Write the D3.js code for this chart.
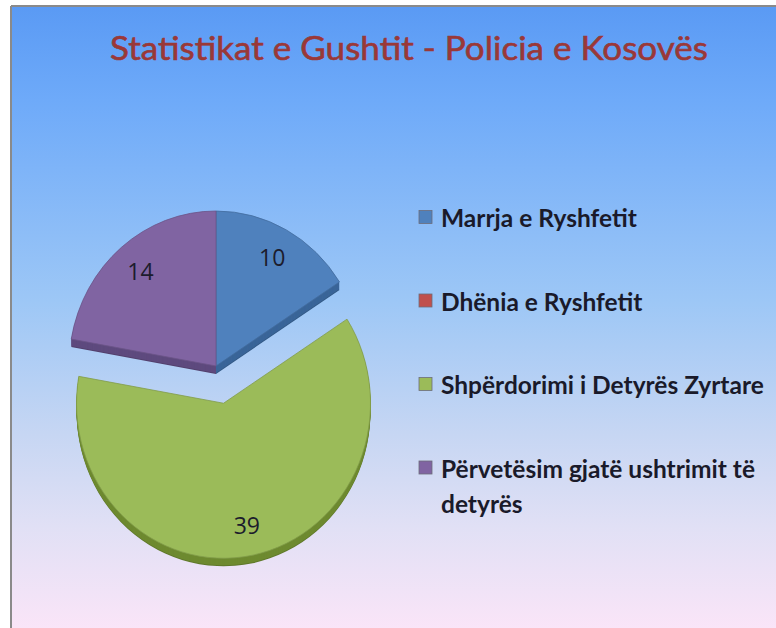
<!DOCTYPE html>
<html>
<head>
<meta charset="utf-8">
<script src="https://cdn.jsdelivr.net/npm/d3@7"></script>
<style>
  html, body { margin: 0; padding: 0; background: #ffffff; }
  svg { display: block; }
</style>
</head>
<body>
<script>
// ---- data ----
const title = "Statistikat e Gushtit - Policia e Kosovës";
const categories = [
  "Marrja e Ryshfetit",
  "Dhënia e Ryshfetit",
  "Shpërdorimi i Detyrës Zyrtare",
  "Përvetësim gjatë ushtrimit të detyrës"
];
const values = [10, 0, 39, 14];
const colors = ["#4F81BD", "#C0504D", "#9BBB59", "#8064A2"];
const sideColors = ["#3A6598", "#9A3B38", "#6E8A30", "#5E4A7E"];

// ---- layout ----
const W = 776, H = 628;
const cx = 216, cy = 366, rx = 147, ry = 155, depth = 8;
const explodeIndex = 2, explodeDist = 38;
const labelR = 0.8;

const svg = d3.select("body").append("svg").attr("width", W).attr("height", H);
const defs = svg.append("defs");
const bg = defs.append("linearGradient").attr("id", "bg")
  .attr("x1", 0).attr("y1", 0).attr("x2", 0).attr("y2", 1);
[[0, "#5a9af4"], [0.15, "#6eaaf9"], [0.47, "#9dc7f6"], [0.68, "#c6d6f3"], [0.83, "#e1e0f5"], [1, "#fbe5f8"]]
  .forEach(([o, c]) => bg.append("stop").attr("offset", o).attr("stop-color", c));

svg.append("rect").attr("x", 11).attr("y", 6).attr("width", W).attr("height", H)
  .attr("fill", "url(#bg)");
svg.append("line").attr("x1", 11).attr("y1", 6).attr("x2", W).attr("y2", 6)
  .attr("stroke", "#8a8a8a").attr("stroke-width", 2);
svg.append("line").attr("x1", 11).attr("y1", 6).attr("x2", 11).attr("y2", H)
  .attr("stroke", "#8a8a8a").attr("stroke-width", 2);

// title
svg.append("text")
  .attr("x", 409).attr("y", 60)
  .attr("text-anchor", "middle")
  .attr("font-family", "Lato, 'Open Sans', sans-serif")
  .attr("font-size", 33)
  .attr("textLength", 598).attr("lengthAdjust", "spacingAndGlyphs")
  .attr("fill", "#9a3838")
  .attr("stroke", "#9a3838")
  .attr("stroke-width", 0.6)
  .text(title);

// pie
const pie = d3.pie().sort(null).value(d => d)(values);
const arc = d3.arc().innerRadius(0).outerRadius(rx);
const sy = ry / rx;

function offset(d, i) {
  if (i !== explodeIndex) return [0, 0];
  const mid = (d.startAngle + d.endAngle) / 2;
  return [Math.sin(mid) * explodeDist, -Math.cos(mid) * explodeDist];
}

const slices = pie.map((d, i) => ({ d, i, off: offset(d, i) })).filter(s => s.d.value > 0);

// side layers
const sideG = svg.append("g");
for (let k = depth; k >= 1; k--) {
  slices.forEach(s => {
    sideG.append("path")
      .attr("transform", `translate(${cx + s.off[0]},${cy + s.off[1] + k}) scale(1,${sy})`)
      .attr("d", arc(s.d))
      .attr("fill", k === depth ? d3.color(sideColors[s.i]).darker(0.4) : sideColors[s.i]);
  });
}
// top faces
slices.forEach(s => {
  svg.append("path")
    .attr("transform", `translate(${cx + s.off[0]},${cy + s.off[1]}) scale(1,${sy})`)
    .attr("d", arc(s.d))
    .attr("fill", colors[s.i])
    .attr("stroke", d3.color(colors[s.i]).darker(0.5))
    .attr("stroke-width", 0.8)
    .attr("vector-effect", "non-scaling-stroke");
});
// labels
slices.forEach(s => {
  const mid = (s.d.startAngle + s.d.endAngle) / 2;
  svg.append("text")
    .attr("x", cx + s.off[0] + Math.sin(mid) * rx * labelR)
    .attr("y", cy + s.off[1] - Math.cos(mid) * ry * labelR)
    .attr("text-anchor", "middle")
    .attr("dominant-baseline", "central")
    .attr("font-family", "'Open Sans', Lato, sans-serif")
    .attr("font-size", 23)
    .attr("fill", "#1c1c2c")
    .text(s.d.value);
});

// legend
const legX = 419, legY0 = 217, legStep = 83.5, lineH = 35, maxW = 335;
const leg = svg.append("g");
categories.forEach((c, i) => {
  const y = legY0 + i * legStep;
  leg.append("rect").attr("x", legX).attr("y", y - 6.5).attr("width", 13).attr("height", 13)
    .attr("fill", colors[i]).attr("stroke", "#6d6d7a").attr("stroke-width", 0.8);
  const t = leg.append("text")
    .attr("x", legX + 22).attr("y", y)
    .attr("dominant-baseline", "central")
    .attr("font-family", "Lato, 'Open Sans', sans-serif")
    .attr("font-weight", 700)
    .attr("font-size", 24.5)
    .attr("fill", "#1a1a2a");
  // word wrap
  const words = c.split(" ");
  let line = [], lineNo = 0;
  let tspan = t.append("tspan").attr("x", legX + 22).attr("y", y);
  words.forEach(w => {
    line.push(w);
    tspan.text(line.join(" "));
    if (tspan.node().getComputedTextLength() > maxW && line.length > 1) {
      line.pop();
      tspan.text(line.join(" "));
      line = [w];
      lineNo++;
      tspan = t.append("tspan").attr("x", legX + 22).attr("y", y + lineNo * lineH).text(w);
    }
  });
});
</script>
</body>
</html>
